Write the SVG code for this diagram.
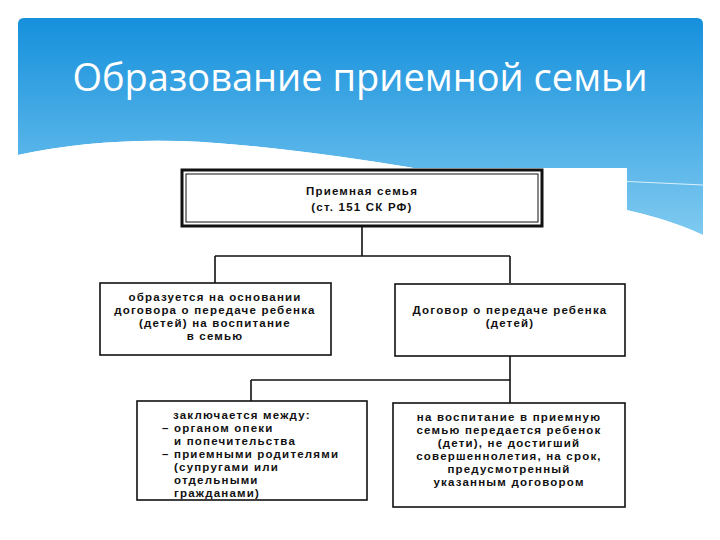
<svg xmlns="http://www.w3.org/2000/svg" width="720" height="540" viewBox="0 0 720 540">
<defs>
<linearGradient id="bg" x1="0" y1="0" x2="0" y2="1">
<stop offset="0" stop-color="#1590dc"/><stop offset="1" stop-color="#7fcaf0"/>
</linearGradient>
<style>
.box{fill:#fff;stroke:#111;stroke-width:1.6}
.t{font-family:"Liberation Sans",Arial,sans-serif;font-weight:bold;font-size:11.5px;letter-spacing:1.2px;fill:#111}
.c{stroke:#111;stroke-width:1.6;fill:none}
</style>
</defs>
<rect width="720" height="540" fill="#fff"/>
<path d="M24,18 H697 Q703,18 703,24 V235 Q660,215 600,205 Q400,160 240,145 Q120,133 18,155 V24 Q18,18 24,18 Z" fill="url(#bg)"/>
<path d="M18,155 Q120,133 240,145 Q400,160 600,205 Q660,215 703,235 V250 Q640,225 560,210 Q380,175 230,160 Q110,152 18,170 Z" fill="#fff"/>
<path d="M240,188 Q420,170 703,185" stroke="#d8f0fb" stroke-width="1" fill="none"/>
<text x="360" y="91" text-anchor="middle" font-family="'Open Sans','Noto Sans',sans-serif" font-size="38" fill="#fff">Образование приемной семьи</text>
<rect x="180" y="168" width="447" height="350" fill="#fff"/>
<g id="connectors">
<path class="c" d="M362,226 V256 M215,256 H510 M215,256 V283 M510,256 V283 M510,356 V380 M251,380 H510 M251,380 V401 M510,380 V403"/>
</g>
<g id="n1">
<rect x="182" y="170" width="360" height="56" fill="#fff" stroke="#111" stroke-width="3"/>
<rect x="186" y="174" width="352" height="48" fill="none" stroke="#111" stroke-width="1"/>
<text class="t" x="362" y="195" text-anchor="middle">Приемная семья</text>
<text class="t" x="362" y="211" text-anchor="middle">(ст. 151 СК РФ)</text>
</g>
<g id="n2">
<rect class="box" x="100" y="283" width="231" height="72"/>
<text class="t" text-anchor="middle"><tspan x="215" y="301">образуется на основании</tspan><tspan x="215" y="314">договора о передаче ребенка</tspan><tspan x="215" y="327">(детей) на воспитание</tspan><tspan x="215" y="340">в семью</tspan></text>
</g>
<g id="n3">
<rect class="box" x="395" y="284" width="230" height="72"/>
<text class="t" text-anchor="middle"><tspan x="510" y="314">Договор о передаче ребенка</tspan><tspan x="510" y="327">(детей)</tspan></text>
</g>
<g id="n4">
<rect class="box" x="137" y="401" width="230" height="99"/>
<text class="t"><tspan x="173" y="419">заключается между:</tspan><tspan x="162" y="432">– органом опеки</tspan><tspan x="174" y="445">и попечительства</tspan><tspan x="162" y="458">– приемными родителями</tspan><tspan x="174" y="471">(супругами или</tspan><tspan x="174" y="484">отдельными</tspan><tspan x="174" y="497">гражданами)</tspan></text>
</g>
<g id="n5">
<rect class="box" x="393" y="403" width="232" height="104"/>
<text class="t" text-anchor="middle"><tspan x="509" y="421">на воспитание в приемную</tspan><tspan x="509" y="434">семью передается ребенок</tspan><tspan x="509" y="447">(дети), не достигший</tspan><tspan x="509" y="460">совершеннолетия, на срок,</tspan><tspan x="509" y="473">предусмотренный</tspan><tspan x="509" y="486">указанным договором</tspan></text>
</g>
</svg>
